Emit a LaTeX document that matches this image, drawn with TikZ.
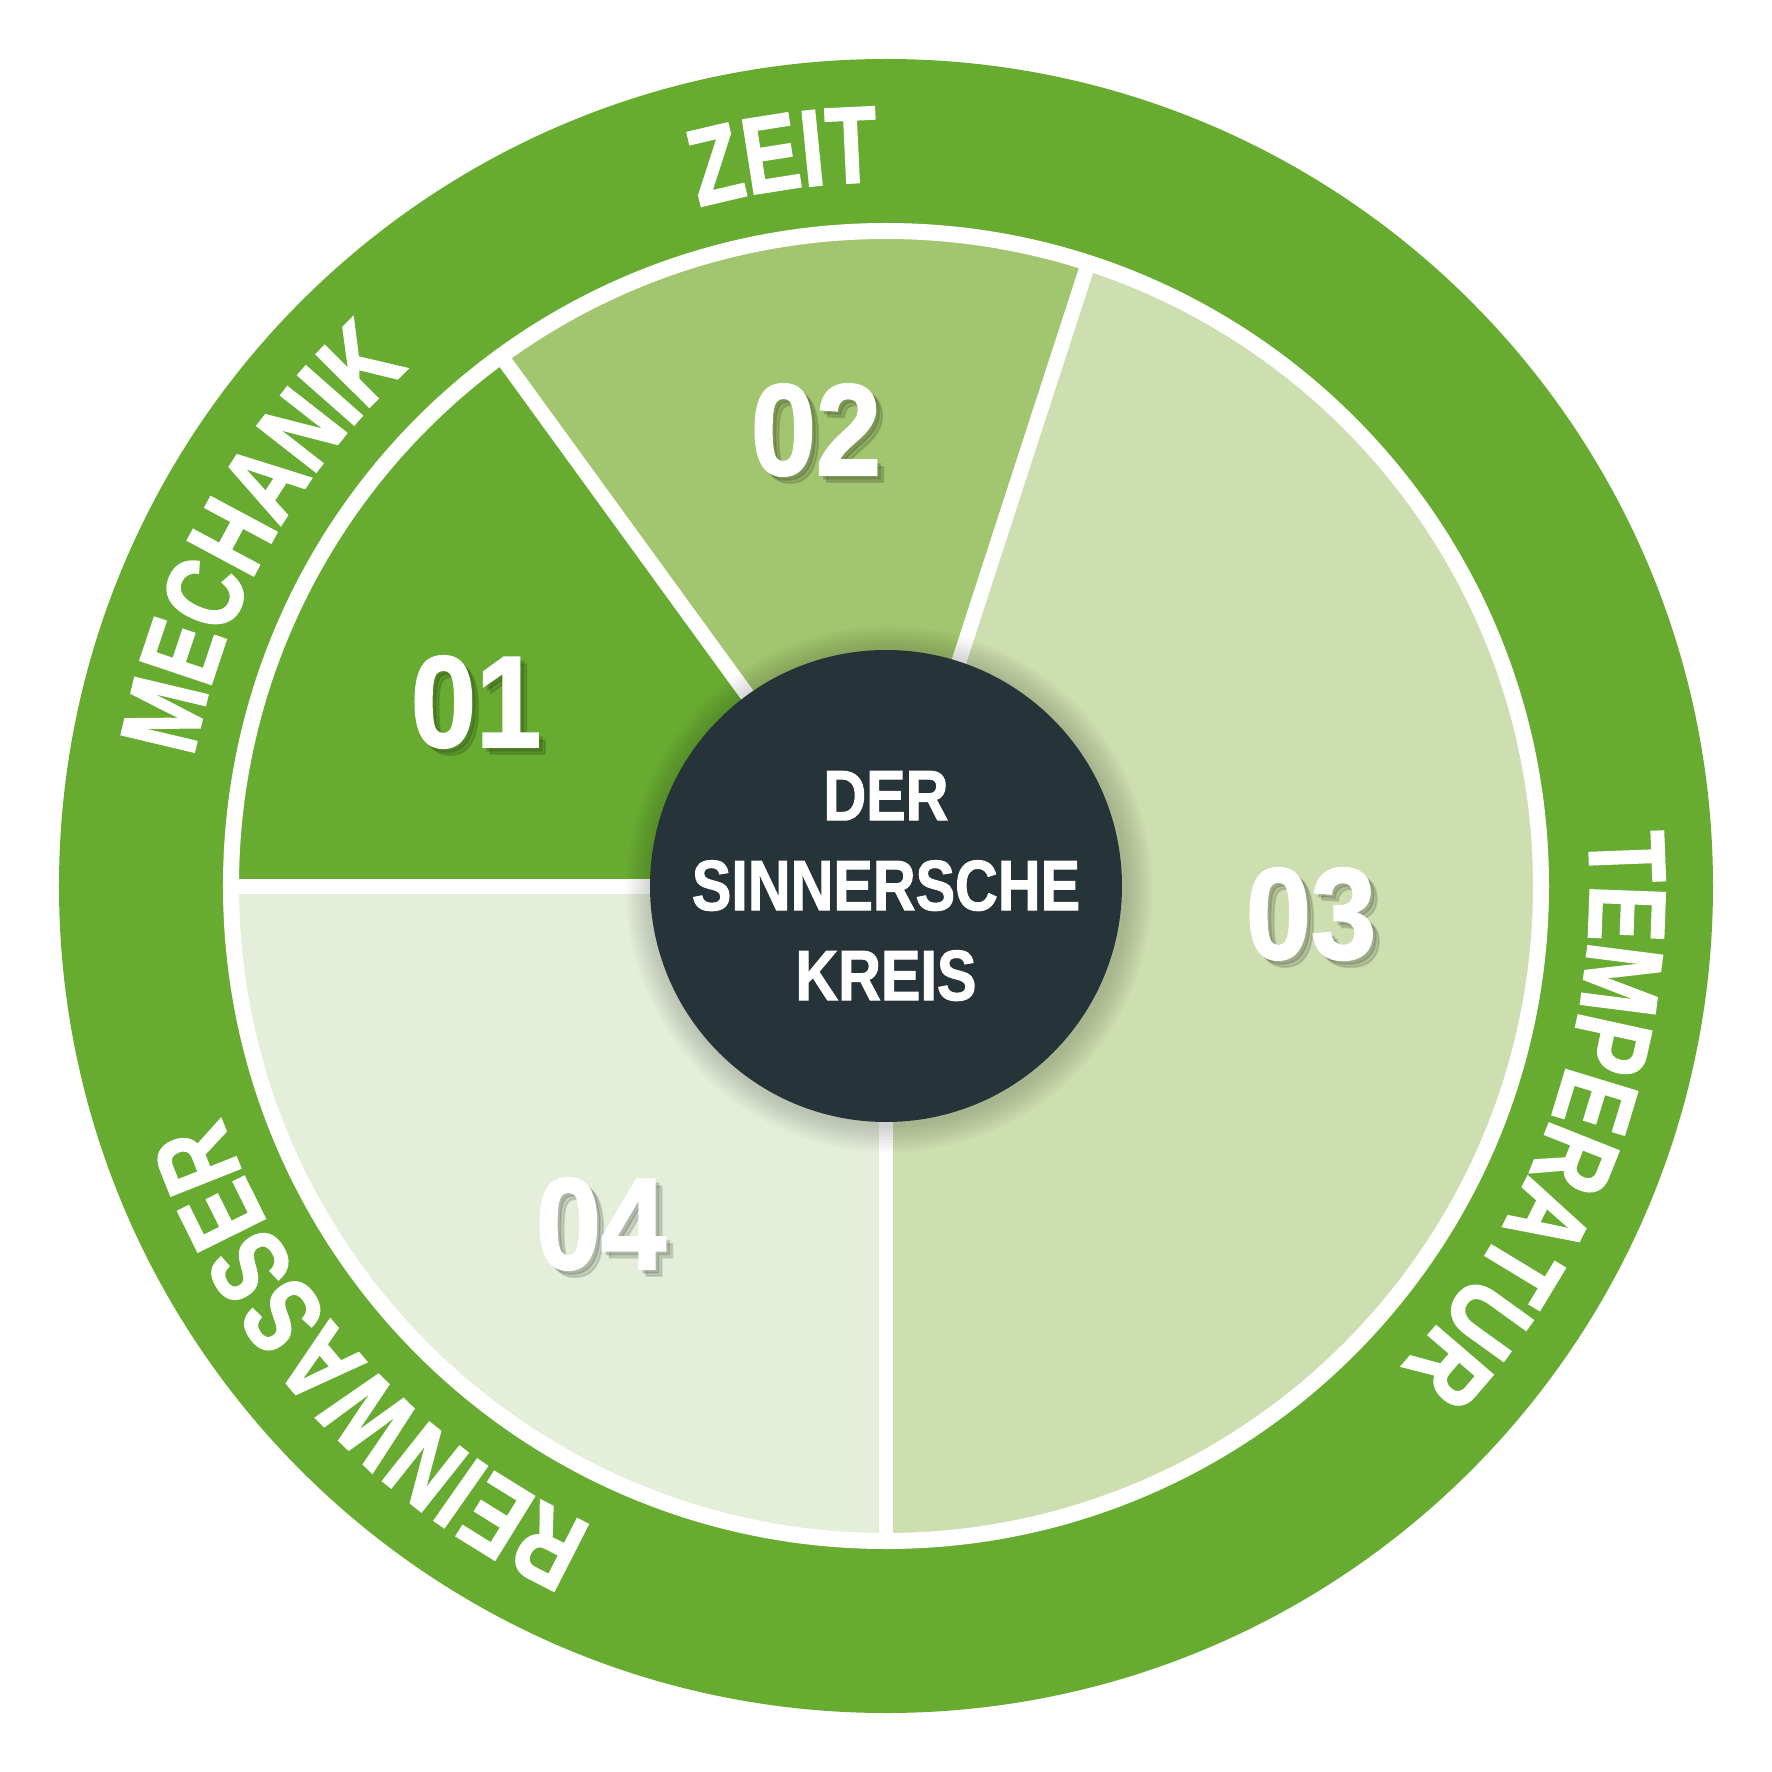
\documentclass[tikz,border=0pt]{standalone}
\usepackage{fontspec}
\newfontfamily\ringfont[FakeStretch=0.77, FakeBold=1.6]{Liberation Sans Bold}
\newfontfamily\kreisfont[FakeStretch=0.83, FakeBold=1.4]{Liberation Sans Bold}
\newfontfamily\numfont[FakeStretch=0.9, FakeBold=1.6]{Liberation Sans Bold}
\usetikzlibrary{decorations.text}

\definecolor{ringgreen}{HTML}{67AC31}
\definecolor{sliceb}{HTML}{A2C56F}
\definecolor{slicec}{HTML}{CDDEB0}
\definecolor{sliced}{HTML}{E4EED9}
\definecolor{kreisdark}{HTML}{26343A}

\tikzset{
	divider/.style={draw=white, line width=0.15cm},
	ringtext/.style={decorate, decoration={text along path, text align=center, text color=white,
		text={|\ringfont\fontsize{31}{36}\selectfont|#1}}},
	number/.style={text=white, inner sep=0, font=\numfont\fontsize{37}{40}\selectfont},
	numshadow/.style={text=black, opacity=0.12, inner sep=0, font=\numfont\fontsize{37}{40}\selectfont},
	kreisnode/.style={circle, fill=kreisdark, minimum size=4.72cm, inner sep=0, align=center, text=white,
		font=\kreisfont\fontsize{20.3}{25.6}\selectfont},
}

\begin{document}
\begin{tikzpicture}
\useasboundingbox (-8.86,-8.86) rectangle (8.86,8.86);
\fill[white] (-8.86,-8.86) rectangle (8.86,8.86);

% outer ring
\fill[ringgreen] (0,0) circle (8.27);

% slices
\foreach \from/\to/\col in {126/180/ringgreen, 72/126/sliceb, -90/72/slicec, 180/270/sliced} {
	\fill[\col] (0,0) -- (\from:6.55) arc[start angle=\from, end angle=\to, radius=6.55] -- cycle;
}
\draw[white, line width=0.16cm] (0,0) circle (6.55);
\foreach \a in {72,126,180,270} {
	\draw[divider] (0,0) -- (\a:6.55);
}

% ring labels
\path[ringtext=ZEIT] (128:7.04) arc[start angle=128, end angle=68, radius=7.04];
\path[ringtext=MECHANIK] (181.1:7.04) arc[start angle=181.1, end angle=121.1, radius=7.04];
\path[ringtext=TEMPERATUR] (10.6:7.04) arc[start angle=10.6, end angle=-49.4, radius=7.04];
\path[ringtext=REINWASSER] (-107.7:7.04) arc[start angle=-107.7, end angle=-167.7, radius=7.04];

% numbers
\foreach \num/\x/\y in {01/-4.10/1.84, 02/-0.70/4.56, 03/4.25/-0.28, 04/-2.85/-3.38} {
	\node[numshadow] (s\num) at (\x+0.04,\y-0.04) {\num};
	\node[numshadow] (t\num) at (\x+0.07,\y-0.07) {\num};
	\node[number] (n\num) at (\x,\y) {\num};
}

% center
\foreach \r in {0.03,0.06,...,0.27} {
	\fill[black, opacity=0.018] (0.03,-0.03) circle (2.36+\r);
}
\node[kreisnode] (kreis) at (0,0) {DER\\SINNERSCHE\\KREIS};

\end{tikzpicture}
\end{document}
